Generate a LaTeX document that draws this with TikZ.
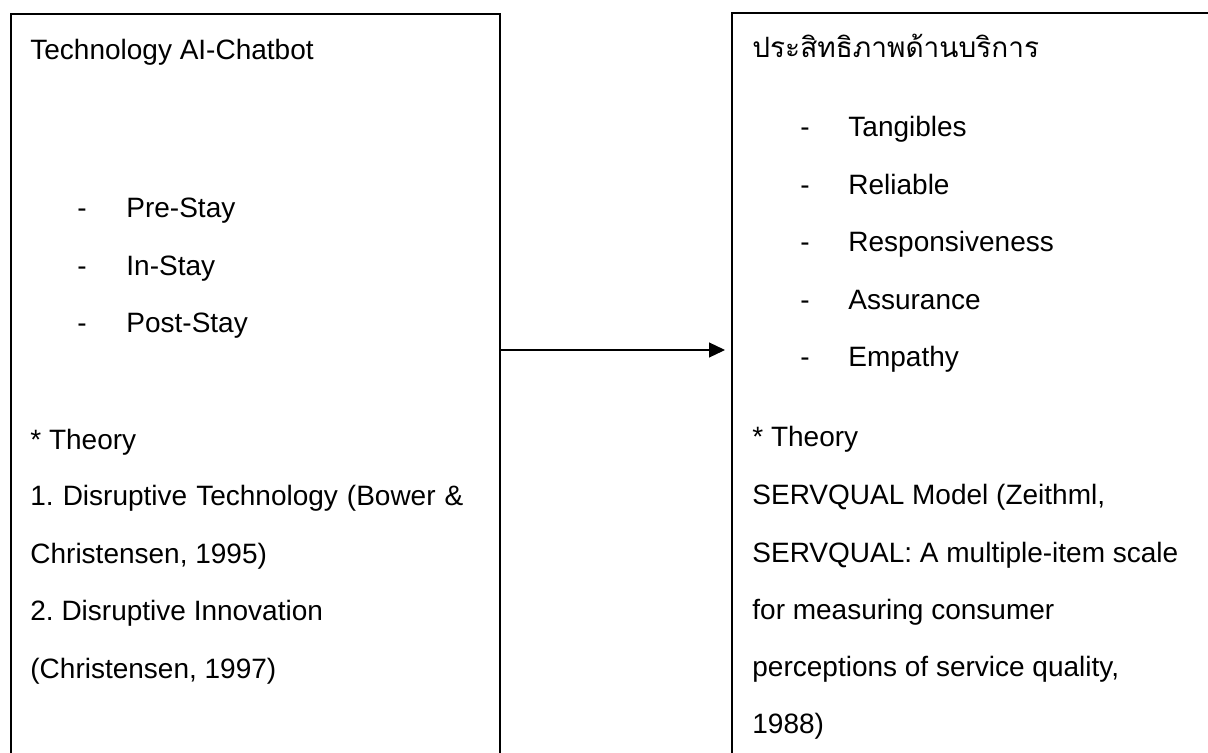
\documentclass[tikz,border=0pt]{standalone}
\usepackage{fontspec}
\setmainfont{Liberation Sans}
\newfontfamily\thaifont[Script=Thai]{Loma}
\usetikzlibrary{arrows.meta, positioning}
\frenchspacing

\begin{document}
\begin{tikzpicture}[
    x=0.5pt, y=-0.5pt,
    box/.style={
        rectangle, draw, line width=0.8pt,
        inner sep=0pt, anchor=north west
    },
    txt/.style={anchor=base west, inner sep=0pt, font=\fontsize{14}{16}\selectfont},
    arr/.style={-{Triangle[length=8pt, width=7.5pt]}, line width=0.6pt, shorten >=3pt}
]
\path[use as bounding box, clip] (0,0) rectangle (1208,753);

\node[box, minimum width=244.5pt, minimum height=400pt] (tech) at (10,13) {};
\node[box, minimum width=260pt,   minimum height=400pt] (serv) at (731,12) {};

% left box
\node[txt] (techttl) at (30,60) {Technology AI-Chatbot};
\node[txt] (d1) at (77,218) {-};  \node[txt] (pre)  at (126,218) {Pre-Stay};
\node[txt] (d2) at (77,276) {-};  \node[txt] (in)   at (126,276) {In-Stay};
\node[txt] (d3) at (77,333) {-};  \node[txt] (post) at (126,333) {Post-Stay};
\node[txt] (thl) at (30,449) {* Theory};
\node[txt] (t1a) at (30,505) {\makebox[216.5pt][s]{1. Disruptive Technology (Bower \&}};
\node[txt] (t1b) at (30,563) {Christensen, 1995)};
\node[txt] (t2a) at (30,620) {2. Disruptive Innovation};
\node[txt] (t2b) at (30,678) {(Christensen, 1997)};

% right box
\node[txt] (servttl) at (752,58) {\thaifont ประสิทธิภาพด้านบริการ};
\node[txt] (e1) at (800,137) {-};  \node[txt] (tan) at (848,137) {Tangibles};
\node[txt] (e2) at (800,195) {-};  \node[txt] (rel) at (848,195) {Reliable};
\node[txt] (e3) at (800,252) {-};  \node[txt] (res) at (848,252) {Responsiveness};
\node[txt] (e4) at (800,310) {-};  \node[txt] (ass) at (848,310) {Assurance};
\node[txt] (e5) at (800,366) {-};  \node[txt] (emp) at (848,366) {Empathy};
\node[txt] (thr) at (752,446) {* Theory};
\node[txt] (s1) at (752,504) {SERVQUAL Model (Zeithml,};
\node[txt] (s2) at (752,562) {SERVQUAL: A multiple-item scale};
\node[txt] (s3) at (752,619) {for measuring consumer};
\node[txt] (s4) at (752,676) {perceptions of service quality,};
\node[txt] (s5) at (752,733) {1988)};

\draw[arr] (tech.east |- 0,350) -- (serv.west |- 0,350);

\end{tikzpicture}
\end{document}
